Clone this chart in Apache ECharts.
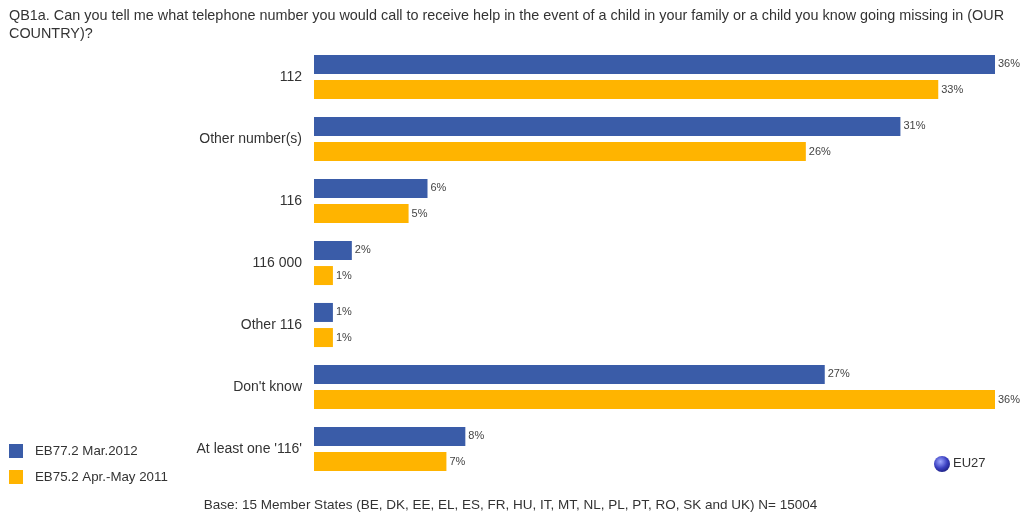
<!DOCTYPE html>
<html>
<head>
<meta charset="utf-8">
<script src="https://cdn.jsdelivr.net/npm/echarts@6/dist/echarts.min.js"></script>
<style>html,body{margin:0;padding:0;background:#fff}#c{width:1021px;height:516px}</style>
</head>
<body>
<div id="c"></div>
<script>
const categories = ["112", "Other number(s)", "116", "116 000", "Other 116", "Don't know", "At least one '116'"];
const series2012 = [36, 31, 6, 2, 1, 27, 8];
const series2011 = [33, 26, 5, 1, 1, 36, 7];
const seriesNames = ["EB77.2 Mar.2012", "EB75.2 Apr.-May 2011"];

const chart = echarts.init(document.getElementById('c'));
const font = '"Liberation Sans", Arial, sans-serif';
const lbl = {show: true, position: 'right', distance: 3, formatter: '{c}%', fontFamily: font, fontSize: 11, color: '#444'};
chart.setOption({
  animation: false,
  textStyle: {fontFamily: font},
  title: {
    text: 'QB1a. Can you tell me what telephone number you would call to receive help in the event of a child in your family or a child you know going missing in (OUR\nCOUNTRY)?',
    left: 4, top: 2,
    textStyle: {fontFamily: font, fontSize: 14.4, fontWeight: 'normal', color: '#333', lineHeight: 18}
  },
  legend: {
    orient: 'vertical', left: 9, top: 444, padding: 0, itemWidth: 14, itemHeight: 14, itemGap: 12,
    icon: 'rect',
    textStyle: {fontFamily: font, fontSize: 13.3, color: '#333', padding: [0, 0, 0, 7]},
    data: seriesNames
  },
  grid: {left: 314, right: 26, top: 46, height: 434, outerBoundsMode: 'none', containLabel: false},
  xAxis: {type: 'value', min: 0, max: 36, show: false},
  yAxis: {
    type: 'category', data: categories, inverse: true,
    axisLine: {show: false}, axisTick: {show: false},
    axisLabel: {margin: 12, fontFamily: font, fontSize: 14, color: '#333'}
  },
  series: [
    {name: seriesNames[0], type: 'bar', data: series2012, barWidth: 19, barGap: '32%', itemStyle: {color: '#3a5ca8'}, label: lbl},
    {name: seriesNames[1], type: 'bar', data: series2011, barWidth: 19, itemStyle: {color: '#ffb400'}, label: lbl}
  ],
  graphic: [
    {type: 'circle', shape: {cx: 942, cy: 464, r: 8}, style: {fill: {type: 'radial', x: 0.4, y: 0.35, r: 0.7, colorStops: [{offset: 0, color: '#9fa8ff'}, {offset: 0.6, color: '#3a3fc0'}, {offset: 1, color: '#1c1f80'}]}}},
    {type: 'text', left: 953, top: 457, style: {text: 'EU27', font: '13px ' + font, fill: '#333'}},
    {type: 'text', left: 'center', top: 498, style: {text: 'Base: 15 Member States (BE, DK, EE, EL, ES, FR, HU, IT, MT, NL, PL, PT, RO, SK and UK) N= 15004', font: '13.5px ' + font, fill: '#333'}}
  ]
});
</script>
</body>
</html>
